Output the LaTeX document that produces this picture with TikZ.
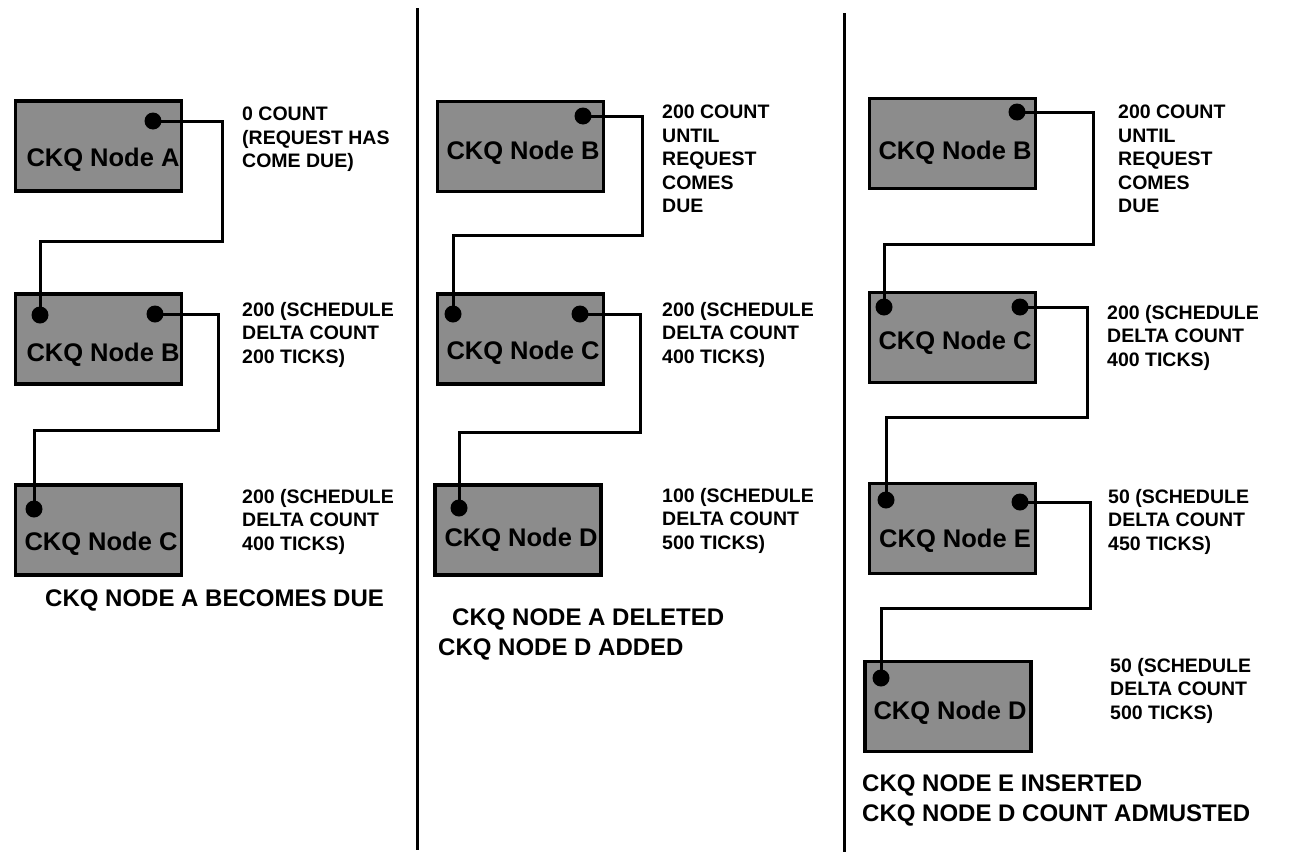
\documentclass[tikz,border=0pt]{standalone}
\usepackage{fontspec}
\setmainfont{Liberation Sans}
\begin{document}
\begin{tikzpicture}[x=1pt,y=-1pt,
  ckqbox/.style={rectangle, draw=black, line width=3.4pt, fill=black!45, minimum width=166pt, minimum height=90pt, inner sep=0pt},
  ckqlabel/.style={anchor=base, inner sep=0pt, font=\fontsize{25.5}{29}\selectfont\bfseries},
  ckqdot/.style={circle, fill=black, minimum size=17pt, inner sep=0pt},
  link/.style={line width=3pt, line join=miter},
  divider/.style={line width=3pt},
  sidetext/.style={anchor=north west, inner sep=0pt, align=left, font=\fontsize{19.5}{23.5}\selectfont\bfseries},
  caption/.style={anchor=north west, inner sep=0pt, align=left, font=\fontsize{24}{29.5}\selectfont\bfseries}]
\useasboundingbox (0,0) rectangle (1298,854);

% dividers
\coordinate (v1t) at (417,8);   \coordinate (v1b) at (417,850);
\coordinate (v2t) at (844,13);  \coordinate (v2b) at (844,852);
\draw[divider] (v1t) -- (v1b);
\draw[divider] (v2t) -- (v2b);

% ---------- panel 1 ----------
\node[ckqbox] (A1) at (98.5,146) {};
\node[ckqbox] (B1) at (98.5,339) {};
\node[ckqbox] (C1) at (98.5,530) {};
\node[ckqlabel] (A1t) at (103,166) {CKQ Node A};
\node[ckqlabel] (B1t) at (103,361) {CKQ Node B};
\node[ckqlabel] (C1t) at (101,550) {CKQ Node C};
\node[ckqdot] (A1R) at (153,121) {};
\node[ckqdot] (B1L) at (40,315) {};
\node[ckqdot] (B1R) at (155,314) {};
\node[ckqdot] (C1L) at (34,509) {};
\coordinate (k1) at (222,241);
\coordinate (k2) at (218,430);
\draw[link] (A1R.center) -| (k1) -| (B1L.center);
\draw[link] (B1R.center) -| (k2) -| (C1L.center);
\node[sidetext] (s11) at (242,107) {0 COUNT\\(REQUEST HAS\\COME DUE)};
\node[sidetext] (s12) at (242,302) {200 (SCHEDULE\\DELTA COUNT\\200 TICKS)};
\node[sidetext] (s13) at (242,489) {200 (SCHEDULE\\DELTA COUNT\\400 TICKS)};
\node[caption] (cap1) at (45,590) {CKQ NODE A BECOMES DUE};

% ---------- panel 2 ----------
\node[ckqbox] (B2) at (520.5,146.5) {};
\node[ckqbox] (C2) at (520.5,339) {};
\node[ckqbox] (D2) at (518,530) {};
\node[ckqlabel] (B2t) at (523,159) {CKQ Node B};
\node[ckqlabel] (C2t) at (523,359) {CKQ Node C};
\node[ckqlabel] (D2t) at (521,546) {CKQ Node D};
\node[ckqdot] (B2R) at (583,116) {};
\node[ckqdot] (C2L) at (453,314) {};
\node[ckqdot] (C2R) at (580,314) {};
\node[ckqdot] (D2L) at (459,508) {};
\coordinate (k3) at (642,235);
\coordinate (k4) at (640,432);
\draw[link] (B2R.center) -| (k3) -| (C2L.center);
\draw[link] (C2R.center) -| (k4) -| (D2L.center);
\node[sidetext] (s21) at (662,105) {200 COUNT\\UNTIL\\REQUEST\\COMES\\DUE};
\node[sidetext] (s22) at (662,302) {200 (SCHEDULE\\DELTA COUNT\\400 TICKS)};
\node[sidetext] (s23) at (662,488) {100 (SCHEDULE\\DELTA COUNT\\500 TICKS)};
\node[caption] (cap2) at (438,609) {\hspace*{14pt}CKQ NODE A DELETED\\CKQ NODE D ADDED};

% ---------- panel 3 ----------
\node[ckqbox] (B3) at (952.5,143.5) {};
\node[ckqbox] (C3) at (952.5,337.5) {};
\node[ckqbox] (E3) at (952.5,528.5) {};
\node[ckqbox] (D3) at (948,706.5) {};
\node[ckqlabel] (B3t) at (955,159) {CKQ Node B};
\node[ckqlabel] (C3t) at (955,349) {CKQ Node C};
\node[ckqlabel] (E3t) at (955,547) {CKQ Node E};
\node[ckqlabel] (D3t) at (950,719) {CKQ Node D};
\node[ckqdot] (B3R) at (1017,112) {};
\node[ckqdot] (C3L) at (884,307) {};
\node[ckqdot] (C3R) at (1020,307) {};
\node[ckqdot] (E3L) at (886,500) {};
\node[ckqdot] (E3R) at (1020,502) {};
\node[ckqdot] (D3L) at (881,678) {};
\coordinate (k5) at (1093,244);
\coordinate (k6) at (1087,417);
\coordinate (k7) at (1090,608);
\draw[link] (B3R.center) -| (k5) -| (C3L.center);
\draw[link] (C3R.center) -| (k6) -| (E3L.center);
\draw[link] (E3R.center) -| (k7) -| (D3L.center);
\node[sidetext] (s31) at (1118,105) {200 COUNT\\UNTIL\\REQUEST\\COMES\\DUE};
\node[sidetext] (s32) at (1107,305) {200 (SCHEDULE\\DELTA COUNT\\400 TICKS)};
\node[sidetext] (s33) at (1108,489) {50 (SCHEDULE\\DELTA COUNT\\450 TICKS)};
\node[sidetext] (s34) at (1110,658) {50 (SCHEDULE\\DELTA COUNT\\500 TICKS)};
\node[caption] (cap3) at (862,775) {CKQ NODE E INSERTED\\CKQ NODE D COUNT ADMUSTED};
\end{tikzpicture}
\end{document}
